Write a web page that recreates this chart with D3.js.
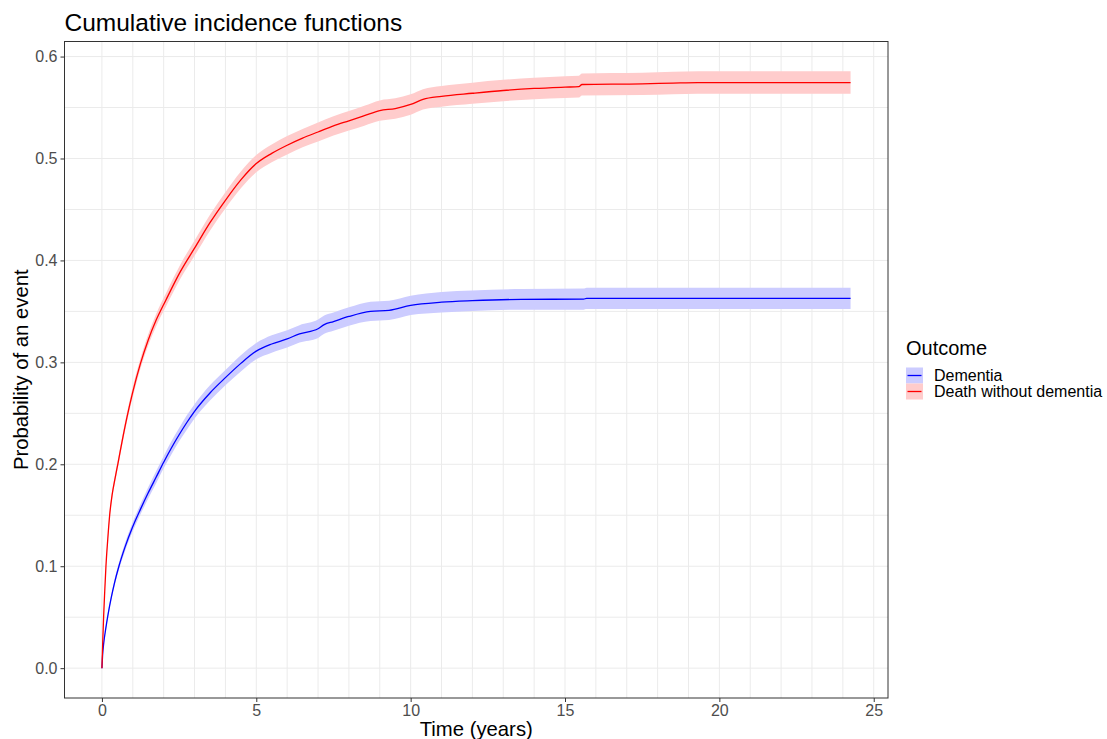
<!DOCTYPE html>
<html>
<head>
<meta charset="utf-8">
<script src="https://cdn.jsdelivr.net/npm/d3@7"></script>
<style>
  body { margin: 0; background: #fff; }
  text { font-family: "Liberation Sans", Arial, sans-serif; }
</style>
</head>
<body>
<script>
// valori: tempo (anni), stima, limiti della banda
var redTime  = [0, 0.025, 0.054, 0.09, 0.13, 0.19, 0.25, 0.33, 0.43, 0.52, 0.65, 0.81, 1.0, 1.24, 1.5, 1.75, 2.07, 2.54, 3.0, 3.5, 4.0, 4.5, 5.0, 5.5, 6.0, 6.5, 7.0, 7.5, 8.0, 8.5, 9.0, 9.5, 10.0, 10.4, 11.0, 12.0, 13.0, 14.0, 15.0, 15.45, 15.55, 17.5, 18.5, 19.3, 24.25];
var redEst   = [0, 0.025, 0.05, 0.075, 0.10, 0.127, 0.15, 0.170, 0.187, 0.201, 0.222, 0.246, 0.271, 0.298, 0.322, 0.341, 0.361, 0.389, 0.412, 0.437, 0.459, 0.479, 0.495, 0.505, 0.513, 0.520, 0.526, 0.532, 0.537, 0.542, 0.547, 0.549, 0.553, 0.558, 0.561, 0.564, 0.5667, 0.5687, 0.570, 0.5705, 0.5726, 0.5732, 0.574, 0.5745, 0.5745];
var redLow   = [0, 0.0242, 0.0488, 0.0734, 0.098, 0.1245, 0.147, 0.1667, 0.1834, 0.197, 0.218, 0.2415, 0.266, 0.293, 0.3165, 0.335, 0.3545, 0.382, 0.4045, 0.4292, 0.451, 0.4707, 0.4865, 0.4962, 0.504, 0.511, 0.5167, 0.5225, 0.5275, 0.5322, 0.537, 0.539, 0.543, 0.548, 0.5508, 0.5536, 0.5562, 0.5581, 0.5593, 0.5598, 0.5618, 0.5623, 0.563, 0.5635, 0.5635];
var redHigh  = [0, 0.0258, 0.0512, 0.0766, 0.102, 0.1295, 0.153, 0.1733, 0.1906, 0.205, 0.226, 0.2505, 0.276, 0.303, 0.3275, 0.347, 0.3675, 0.396, 0.4195, 0.4448, 0.467, 0.4873, 0.5035, 0.5138, 0.522, 0.529, 0.5353, 0.5415, 0.5465, 0.5518, 0.557, 0.559, 0.563, 0.568, 0.5712, 0.5744, 0.5772, 0.5793, 0.5807, 0.5812, 0.5834, 0.5841, 0.585, 0.5855, 0.5855];

var blueTime = [0, 0.02, 0.06, 0.12, 0.2, 0.3, 0.41, 0.55, 0.75, 1.0, 1.25, 1.5, 1.75, 2.0, 2.25, 2.5, 2.75, 3.0, 3.5, 4.0, 4.5, 5.0, 5.5, 6.0, 6.4, 7.0, 7.2, 7.5, 8.0, 8.7, 9.3, 10.0, 11.0, 12.0, 13.6, 15.6, 15.7, 24.25];
var blueEst  = [0, 0.012, 0.025, 0.038, 0.053, 0.069, 0.084, 0.10, 0.119, 0.139, 0.156, 0.172, 0.187, 0.202, 0.216, 0.229, 0.241, 0.252, 0.270, 0.285, 0.299, 0.311, 0.318, 0.323, 0.328, 0.333, 0.337, 0.340, 0.345, 0.350, 0.351, 0.3559, 0.359, 0.3605, 0.3618, 0.362, 0.3628, 0.3628];
var blueLow  = [0, 0.0115, 0.024, 0.0365, 0.051, 0.0665, 0.081, 0.0965, 0.115, 0.1345, 0.151, 0.1665, 0.181, 0.196, 0.2095, 0.2225, 0.234, 0.245, 0.2625, 0.2775, 0.291, 0.303, 0.3095, 0.3145, 0.3195, 0.324, 0.328, 0.331, 0.336, 0.3405, 0.3415, 0.3464, 0.349, 0.3505, 0.3516, 0.3516, 0.3523, 0.3523];
var blueHigh = [0, 0.0125, 0.026, 0.0395, 0.055, 0.0715, 0.087, 0.1035, 0.123, 0.1435, 0.161, 0.1775, 0.193, 0.208, 0.2225, 0.2355, 0.248, 0.259, 0.2775, 0.2925, 0.307, 0.319, 0.3265, 0.3315, 0.3365, 0.342, 0.346, 0.349, 0.354, 0.3595, 0.3605, 0.3654, 0.369, 0.3705, 0.372, 0.3724, 0.3733, 0.3733];

var outcomes = ["Dementia", "Death without dementia"];
var lineColors = ["#0000FF", "#FF0000"];
var bandColors = ["#CCCCFF", "#FFCCCC"];

var xTicks = [0, 5, 10, 15, 20, 25];
var xGrid = d3.range(0, 26, 1);
var yTicks = [0, 0.1, 0.2, 0.3, 0.4, 0.5, 0.6];
var yGrid = d3.range(0, 0.601, 0.05);

//grandezze
var W = 1107, H = 739;
var panel = {left: 64.5, right: 888, top: 41.5, bottom: 698};

function toRows(t, e, lo, hi) {
  return t.map(function(d, i) { return {t: d, est: e[i], low: lo[i], high: hi[i]}; });
}
var series = [
  toRows(blueTime, blueEst, blueLow, blueHigh),
  toRows(redTime, redEst, redLow, redHigh)
];

// scale con espansione del 5% come ggplot
var tMax = d3.max(series, function(s) { return d3.max(s, function(d) { return d.t; }); });
var vMax = d3.max(series, function(s) { return d3.max(s, function(d) { return d.high; }); });
var x = d3.scaleLinear().domain([-tMax * 0.05, tMax * 1.05]).range([panel.left, panel.right]);
var y = d3.scaleLinear().domain([-vMax * 0.05, vMax * 1.05]).range([panel.bottom, panel.top]);

var svg = d3.select("body").append("svg").attr("width", W).attr("height", H);

// griglia
var grid = svg.append("g");
grid.selectAll(".gx").data(xGrid).enter().append("line")
  .attr("x1", function(d) { return x(d); }).attr("x2", function(d) { return x(d); })
  .attr("y1", panel.top).attr("y2", panel.bottom)
  .attr("stroke", "#EBEBEB").attr("stroke-width", 1);
grid.selectAll(".gy").data(yGrid).enter().append("line")
  .attr("y1", function(d) { return y(d); }).attr("y2", function(d) { return y(d); })
  .attr("x1", panel.left).attr("x2", panel.right)
  .attr("stroke", "#EBEBEB").attr("stroke-width", 1);

// bande e linee
var area = d3.area().curve(d3.curveMonotoneX).x(function(d) { return x(d.t); })
  .y0(function(d) { return y(d.low); }).y1(function(d) { return y(d.high); });
var line = d3.line().curve(d3.curveMonotoneX)
  .x(function(d) { return x(d.t); }).y(function(d) { return y(d.est); });

series.forEach(function(s, i) {
  svg.append("path").attr("d", area(s)).attr("fill", bandColors[i]).attr("stroke", "none");
});
series.forEach(function(s, i) {
  svg.append("path").attr("d", line(s)).attr("fill", "none")
    .attr("stroke", lineColors[i]).attr("stroke-width", 1.3);
});

// bordo del pannello
svg.append("rect").attr("x", panel.left).attr("y", panel.top)
  .attr("width", panel.right - panel.left).attr("height", panel.bottom - panel.top)
  .attr("fill", "none").attr("stroke", "#333333").attr("stroke-width", 1);

// assi
var xAxis = d3.axisBottom(x).tickValues(xTicks).tickSize(4).tickPadding(3).tickFormat(d3.format("d"));
var yAxis = d3.axisLeft(y).tickValues(yTicks).tickSize(4).tickPadding(3).tickFormat(d3.format(".1f"));
var gx = svg.append("g").attr("transform", "translate(0," + panel.bottom + ")").call(xAxis);
var gy = svg.append("g").attr("transform", "translate(" + panel.left + ",0)").call(yAxis);
[gx, gy].forEach(function(g) {
  g.select(".domain").remove();
  g.selectAll(".tick line").attr("stroke", "#333333");
  g.selectAll(".tick text").attr("fill", "#4D4D4D").style("font-size", "16px")
    .style("font-family", "'Liberation Sans', Arial, sans-serif");
});

// testi
svg.append("text").attr("x", panel.left).attr("y", 31).text("Cumulative incidence functions")
  .style("font-size", "24.5px").attr("fill", "#000");
svg.append("text").attr("x", (panel.left + panel.right) / 2).attr("y", 736)
  .attr("text-anchor", "middle").text("Time (years)").style("font-size", "20.3px");
svg.append("text").attr("transform", "translate(28," + ((panel.top + panel.bottom) / 2) + ") rotate(-90)")
  .attr("text-anchor", "middle").text("Probability of an event").style("font-size", "20.3px");

// legenda
var legend = svg.append("g").attr("transform", "translate(906,0)");
legend.append("text").attr("x", 0).attr("y", 355).text("Outcome").style("font-size", "20px");
outcomes.forEach(function(o, i) {
  var ky = 367.5 + i * 16;
  legend.append("rect").attr("x", 0).attr("y", ky).attr("width", 17).attr("height", 16)
    .attr("fill", bandColors[i]);
  legend.append("line").attr("x1", 1.5).attr("x2", 15.5).attr("y1", ky + 8).attr("y2", ky + 8)
    .attr("stroke", lineColors[i]).attr("stroke-width", 1.3);
  legend.append("text").attr("x", 28).attr("y", ky + 13.5).text(o).style("font-size", "16px");
});
</script>
</body>
</html>
